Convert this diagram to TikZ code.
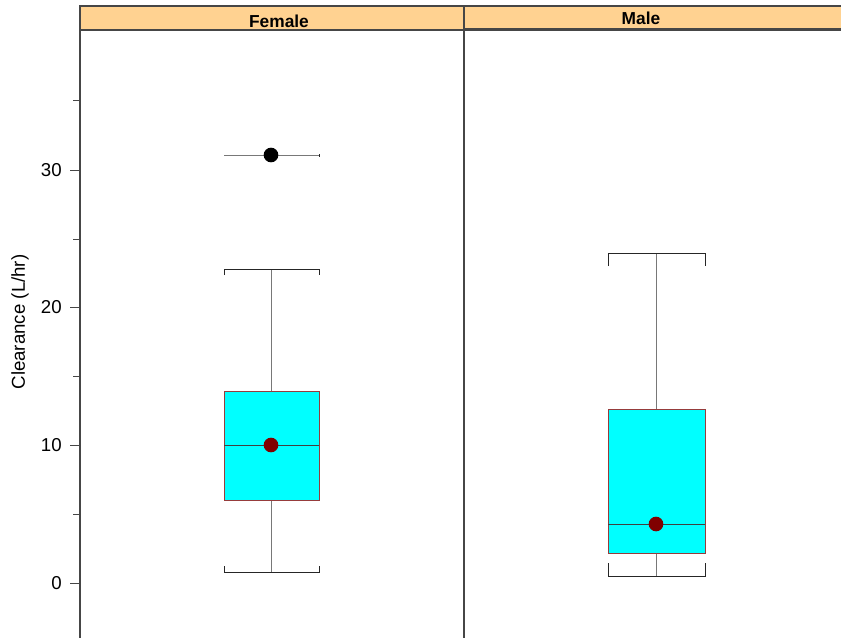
\documentclass[tikz,border=0pt]{standalone}
\usepackage{fontspec}
\setmainfont{Liberation Sans}
\definecolor{strip}{RGB}{255,210,145}
\definecolor{boxfill}{RGB}{0,255,255}
\definecolor{boxline}{RGB}{150,60,60}
\definecolor{dotred}{RGB}{128,0,0}
\definecolor{whisk}{RGB}{120,120,120}
\definecolor{frame}{RGB}{70,70,70}
\begin{document}
\begin{tikzpicture}[x=0.75pt,y=-0.75pt,
  panel/.style={draw=frame,line width=0.8pt},
  stripbox/.style={draw=frame,fill=strip,line width=0.8pt},
  striplabel/.style={font=\fontsize{13}{13}\selectfont\bfseries},
  ticklab/.style={font=\fontsize{14}{14}\selectfont,anchor=east,inner sep=0pt},
  whiskline/.style={draw=whisk,line width=0.7pt},
  capline/.style={draw=black!85,line width=0.7pt},
  qbox/.style={draw=boxline,fill=boxfill,line width=0.6pt},
  medline/.style={draw=black!75,line width=0.7pt},
  meddot/.style={circle,fill=dotred,inner sep=0pt,minimum size=11pt},
  outdot/.style={circle,fill=black,inner sep=0pt,minimum size=11pt}]
\useasboundingbox (0,0) rectangle (841,637);
\fill[white] (0,0) rectangle (841,637);
% panels
\draw[panel] (80,30) rectangle (464,640);
\draw[panel] (464,30) rectangle (845,640);
\draw[stripbox] (80,6) rectangle (464,30);
\draw[stripbox] (464,6) rectangle (845,29);
\node[striplabel] (fem) at (279,21) {Female};
\node[striplabel] (mal) at (641,18) {Male};
% y axis
\foreach \v/\y in {0/583,10/445,20/307,30/170} {
  \draw[frame,line width=0.7pt] (70,\y) -- (80,\y);
  \node[ticklab] (t\v) at (62,\y) {\v};
}
\foreach \y in {514,376,239,100} {
  \draw[frame,line width=0.7pt] (73,\y) -- (80,\y);
}
\node[rotate=90,font=\fontsize{14}{14}\selectfont] (ylab) at (20,322) {Clearance (L/hr)};
% Female
\coordinate (fhi) at (271,269);
\coordinate (flo) at (271,572);
\draw[whiskline] (271,391) -- (fhi);
\draw[whiskline] (271,500) -- (flo);
\draw[capline] (224,275) -- (224,269) -- (319,269) -- (319,275);
\draw[capline] (224,566) -- (224,572) -- (319,572) -- (319,566);
\draw[qbox] (224,391) rectangle (319,500);
\draw[medline] (224,445) -- (319,445);
\node[meddot] (fmed) at (271,445) {};
\draw[whiskline] (224,155) -- (319,155);
\draw[capline] (319,154) -- (319,157);
\node[outdot] (fout) at (271,155) {};
% Male
\coordinate (mhi) at (656,253);
\coordinate (mlo) at (656,576);
\draw[whiskline] (656,409) -- (mhi);
\draw[whiskline] (656,553) -- (mlo);
\draw[capline] (608,266) -- (608,253) -- (705,253) -- (705,266);
\draw[capline] (608,563) -- (608,576) -- (705,576) -- (705,563);
\draw[qbox] (608,409) rectangle (705,553);
\draw[medline] (608,524) -- (705,524);
\node[meddot] (mmed) at (656,524) {};
\end{tikzpicture}
\end{document}
